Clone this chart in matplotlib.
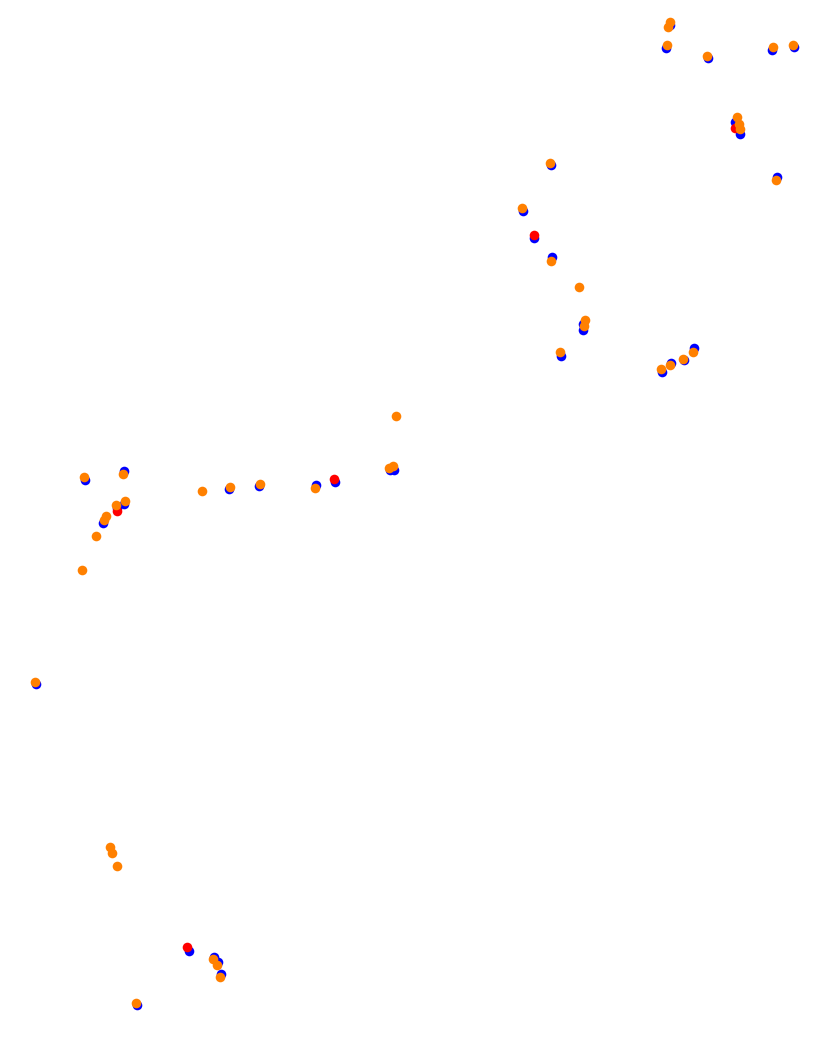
import matplotlib
matplotlib.use("Agg")
import matplotlib.pyplot as plt
import numpy as np

# point positions (pixel space, y down)
blue_x = [670, 666, 708, 772, 794, 735, 737, 740, 777,
          551, 523, 534, 552, 583, 583, 561, 662, 671, 684, 694,
          390, 394, 335, 316, 259, 229, 85, 124, 124, 117, 103,
          36, 189, 214, 218, 221, 137]
blue_y = [25, 48, 58, 50, 47, 122, 127, 134, 177,
          165, 211, 238, 257, 324, 330, 356, 372, 363, 360, 348,
          470, 470, 482, 485, 486, 489, 480, 471, 504, 508, 523,
          684, 951, 957, 962, 974, 1005]

orange_x = [670, 668, 667, 707, 773, 793, 737, 739, 740, 776,
            550, 522, 551, 579, 585, 584, 560, 661, 670, 683, 693,
            396, 389, 393, 315, 260, 230, 202, 84, 123, 125, 116, 106, 104, 96, 82,
            35, 110, 112, 117, 213, 217, 220, 136]
orange_y = [22, 27, 45, 56, 47, 45, 117, 124, 129, 180,
            163, 208, 261, 287, 320, 326, 352, 369, 365, 359, 352,
            416, 468, 466, 488, 484, 487, 491, 477, 474, 501, 505, 516, 520, 536, 570,
            682, 847, 853, 866, 959, 965, 977, 1003]

red_x = [735, 534, 334, 117, 187]
red_y = [128, 235, 479, 511, 947]

fig = plt.figure(figsize=(8.27, 10.39), dpi=100)
ax = fig.add_axes([0, 0, 1, 1])
ax.scatter(blue_x, blue_y, s=48, c="#0000ff", linewidths=0, zorder=2)
ax.scatter(red_x, red_y, s=48, c="#ff0000", linewidths=0, zorder=3)
ax.scatter(orange_x, orange_y, s=48, c="#ff8000", linewidths=0, zorder=4)
ax.set_xlim(0, 827)
ax.set_ylim(1039, 0)
ax.axis("off")
fig.savefig("out.png", dpi=100)
